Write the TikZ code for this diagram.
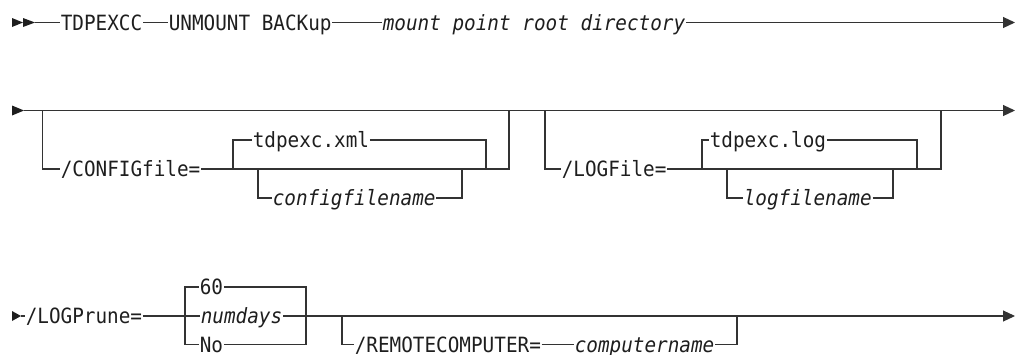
\documentclass[tikz,border=0pt]{standalone}
\usepackage{fontspec}
\usetikzlibrary{arrows.meta}
\newfontfamily\synfont[FakeStretch=0.92]{DejaVu Sans Mono}
\definecolor{railgray}{HTML}{333333}
\definecolor{inkgray}{HTML}{1E1E1E}
\tikzset{
  rail/.style={line width=1.1pt, draw=railgray},
  railend/.style={rail, -{Triangle[length=12pt,width=11pt]}},
  starttip/.style={fill=inkgray, draw=none},
  kw/.style={font=\synfont\fontsize{21pt}{22pt}\selectfont, text=inkgray,
    inner xsep=0.6pt, inner ysep=0pt, text height=15.3pt, text depth=0pt, anchor=west},
  var/.style={kw, font=\synfont\fontsize{21pt}{22pt}\selectfont\itshape},
}
\begin{document}
\begin{tikzpicture}[x=1pt,y=-1pt]
\useasboundingbox (0,0) rectangle (1021,354);

% ---------- line 1 ----------
\fill[starttip] (12,18) -- (23,22.5) -- (12,27) -- cycle;
\fill[starttip] (23,18) -- (35,22.5) -- (23,27) -- cycle;
\coordinate (s1) at (35,22.5);
\node[kw]  (tdp) at (60,22.5)  {TDPEXCC};
\node[kw]  (unm) at (168,22.5) {UNMOUNT BACKup};
\node[var] (mnt) at (382,22.5) {mount point root directory};
\coordinate (e1) at (1015,22.5);
\draw[rail] (s1) -- (tdp.west);
\draw[rail] (tdp.east) -- (unm.west);
\draw[rail] (unm.east) -- (mnt.west);
\draw[railend] (mnt.east) -- (e1);

% ---------- line 2 ----------
\fill[starttip] (12,105.5) -- (24,110.5) -- (12,115.5) -- cycle;
\coordinate (s2) at (24,110.5);
\coordinate (e2) at (1015,110.5);
\draw[railend] (s2) -- (e2);

% optional /CONFIGfile=
\coordinate (a1) at (42.5,110.5);
\coordinate (a2) at (509,110.5);
\node[kw] (cfg) at (60,169) {/CONFIGfile=};
\draw[rail] (a1) |- (cfg.west);
\draw[rail] (cfg.east) -| (a2);
% default tdpexc.xml
\coordinate (b1) at (233,169);
\coordinate (b2) at (486,169);
\node[kw] (xml) at (252,140) {tdpexc.xml};
\draw[rail] (b1) |- (xml.west);
\draw[rail] (xml.east) -| (b2);
% configfilename
\coordinate (c1) at (258,169);
\coordinate (c2) at (462,169);
\node[var] (cfn) at (272,198) {configfilename};
\draw[rail] (c1) |- (cfn.west);
\draw[rail] (cfn.east) -| (c2);

% optional /LOGFile=
\coordinate (d1) at (545,110.5);
\coordinate (d2) at (941,110.5);
\node[kw] (lgf) at (561,169) {/LOGFile=};
\draw[rail] (d1) |- (lgf.west);
\draw[rail] (lgf.east) -| (d2);
% default tdpexc.log
\coordinate (f1) at (702,169);
\coordinate (f2) at (917,169);
\node[kw] (tlog) at (709,140) {tdpexc.log};
\draw[rail] (f1) |- (tlog.west);
\draw[rail] (tlog.east) -| (f2);
% logfilename
\coordinate (g1) at (727,169);
\coordinate (g2) at (893,169);
\node[var] (lfn) at (743,198) {logfilename};
\draw[rail] (g1) |- (lfn.west);
\draw[rail] (lfn.east) -| (g2);

% ---------- line 3 ----------
\fill[starttip] (12,311) -- (21,316) -- (12,321) -- cycle;
\coordinate (s3) at (21,316);
\node[kw] (lp) at (25,316) {/LOGPrune=};
\draw[rail] (s3) -- (lp.west);
% choice 60 | numdays | No
\coordinate (h1) at (185,316);
\coordinate (h2) at (306,316);
\node[kw]  (six) at (199,287) {60};
\node[var] (nd)  at (200,316) {numdays};
\node[kw]  (no)  at (199,344.5) {No};
\draw[rail] (lp.east) -- (nd.west);
\draw[rail] (h1) |- (six.west);
\draw[rail] (six.east) -| (h2);
\draw[rail] (h1) |- (no.west);
\draw[rail] (no.east) -| (h2);
\coordinate (e3) at (1015,316);
\draw[railend] (nd.east) -- (e3);
% optional /REMOTECOMPUTER=
\coordinate (r1) at (342,316);
\coordinate (r2) at (737,316);
\node[kw]  (rc) at (354,344.5) {/REMOTECOMPUTER=};
\node[var] (cn) at (574,344.5) {computername};
\draw[rail] (r1) |- (rc.west);
\draw[rail] (rc.east) -- (cn.west);
\draw[rail] (cn.east) -| (r2);
\end{tikzpicture}
\end{document}
